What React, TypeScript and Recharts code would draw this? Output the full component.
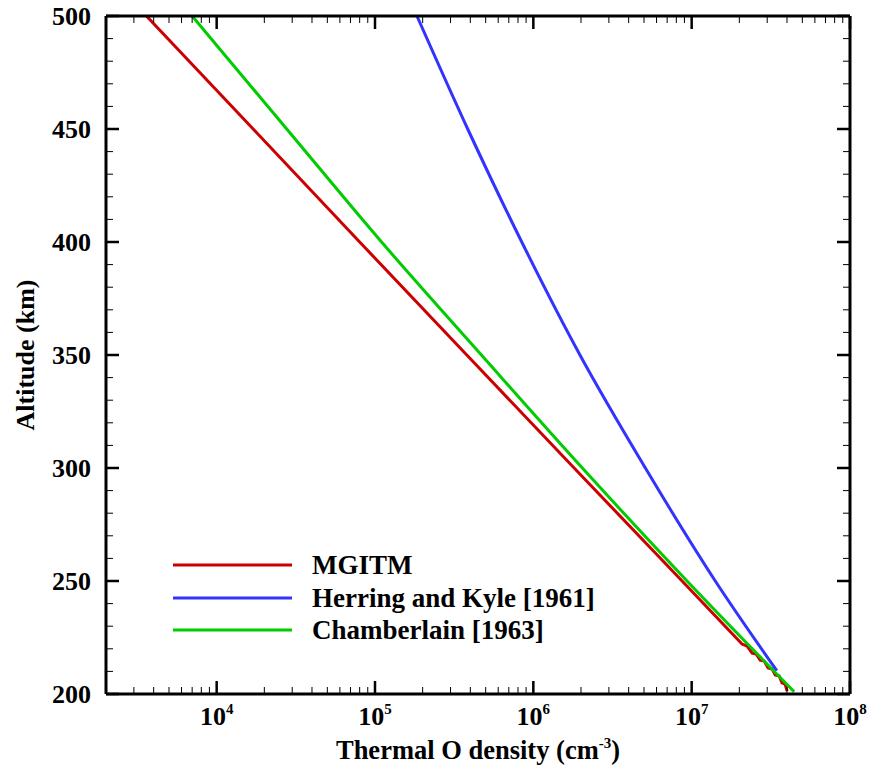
import React from 'react';
import { LineChart, Line, XAxis, YAxis, Legend, Label } from 'recharts';

const FONT = '"Liberation Serif", "Times New Roman", Times, serif';

// altitude (km) and thermal O density (cm^-3) for each profile
const mgitmAlt = [201.3, 204.4, 204.9, 208.0, 208.4, 211.1, 211.5, 214.6, 215.0, 217.7, 218.1, 221.2, 222.1, 250, 300, 350, 400, 450, 500];
const mgitmDensity = [4.01e7, 3.89e7, 3.72e7, 3.57e7, 3.37e7, 3.22e7, 3.04e7, 2.87e7, 2.71e7, 2.55e7, 2.41e7, 2.24e7, 2.08e7, 8.7e6, 1.81e6, 3.8e5, 8.0e4, 1.7e4, 3.6e3];

const herringAlt = [210.3, 250, 300, 350, 400, 450, 500];
const herringDensity = [3.45e7, 1.41e7, 5.1e6, 1.97e6, 8.45e5, 3.85e5, 1.84e5];

const chamberlainAlt = [201, 250, 300, 350, 400, 450, 500];
const chamberlainDensity = [4.44e7, 9.35e6, 2.04e6, 4.7e5, 1.1e5, 2.77e4, 7.0e3];

const seriesNames = ['MGITM', 'Herring and Kyle [1961]', 'Chamberlain [1963]'];
const seriesColors = ['#cc0000', '#3333ff', '#00cc00'];

const xMajorTicks = [1e4, 1e5, 1e6, 1e7, 1e8];
const xTickExponents = ['4', '5', '6', '7', '8'];
const yMajorTicks = [200, 250, 300, 350, 400, 450, 500];

const X_DOMAIN: [number, number] = [2000, 1e8];
const Y_DOMAIN: [number, number] = [200, 500];

// minor ticks: 2..9 in every decade, every 10 km on altitude
const xMinorTicks: number[] = [];
for (let e = 3; e <= 7; e++) {
  for (let m = 2; m <= 9; m++) {
    const v = m * Math.pow(10, e);
    if (v > X_DOMAIN[0] && v < X_DOMAIN[1]) xMinorTicks.push(v);
  }
}
const xAllTicks = [...xMinorTicks, ...xMajorTicks].sort((a, b) => a - b);
const yAllTicks: number[] = [];
for (let a = 200; a <= 500; a += 10) yAllTicks.push(a);

const toRows = (alt: number[], dens: number[]) => alt.map((a, i) => ({ n: dens[i], alt: a }));

const mgitm = toRows(mgitmAlt, mgitmDensity);
const herring = toRows(herringAlt, herringDensity);
const chamberlain = toRows(chamberlainAlt, chamberlainDensity);

const MAJOR = 13;
const MINOR = 7;

const isXMajor = (v: number) => xMajorTicks.indexOf(v);
const isYMajor = (v: number) => yMajorTicks.indexOf(v) >= 0;

const BottomTick = (props: any) => {
  const { x, y, payload } = props;
  const i = isXMajor(payload.value);
  const major = i >= 0;
  return (
    <g>
      <line x1={x} x2={x} y1={y} y2={y - (major ? MAJOR : MINOR)} stroke="#000" strokeWidth={major ? 2.5 : 1} />
      {major && (
        <text x={x} y={y + 31} textAnchor="middle" fontFamily={FONT} fontWeight="bold" fontSize={26} fill="#000">
          10<tspan dy={-11} fontSize={15}>{xTickExponents[i]}</tspan>
        </text>
      )}
    </g>
  );
};

const TopTick = (props: any) => {
  const { x, y, payload } = props;
  const major = isXMajor(payload.value) >= 0;
  return <line x1={x} x2={x} y1={y} y2={y + (major ? MAJOR : MINOR)} stroke="#000" strokeWidth={major ? 2.5 : 1} />;
};

const LeftTick = (props: any) => {
  const { x, y, payload } = props;
  const major = isYMajor(payload.value);
  return (
    <g>
      <line x1={x} x2={x + (major ? MAJOR : MINOR)} y1={y} y2={y} stroke="#000" strokeWidth={major ? 2.5 : 1} />
      {major && (
        <text x={x - 15} y={y} dy="0.35em" textAnchor="end" fontFamily={FONT} fontWeight="bold" fontSize={26} fill="#000">
          {payload.value}
        </text>
      )}
    </g>
  );
};

const RightTick = (props: any) => {
  const { x, y, payload } = props;
  const major = isYMajor(payload.value);
  return <line x1={x} x2={x - (major ? MAJOR : MINOR)} y1={y} y2={y} stroke="#000" strokeWidth={major ? 2.5 : 1} />;
};

const XTitle = (props: any) => {
  const vb = props.viewBox || { x: 106, y: 694, width: 744 };
  return (
    <text x={vb.x + vb.width / 2} y={vb.y + 65} textAnchor="middle" fontFamily={FONT} fontWeight="bold" fontSize={26.5} fill="#000">
      Thermal O density (cm<tspan dy={-11} fontSize={15}>-3</tspan><tspan dy={11}>)</tspan>
    </text>
  );
};

const YTitle = (props: any) => {
  const vb = props.viewBox || { x: 0, y: 16, height: 678 };
  const cx = 25;
  const cy = vb.y + vb.height / 2;
  return (
    <text x={cx} y={cy} transform={`rotate(-90 ${cx} ${cy})`} dy="0.35em" textAnchor="middle" fontFamily={FONT} fontWeight="bold" fontSize={26} fill="#000">
      Altitude (km)
    </text>
  );
};

const LegendBox = () => (
  <div style={{ fontFamily: FONT, fontWeight: 'bold', fontSize: 27, color: '#000' }}>
    {seriesNames.map((name, i) => (
      <div key={name} style={{ display: 'flex', alignItems: 'center', height: 32.5, whiteSpace: 'nowrap' }}>
        <svg width={139} height={6} style={{ display: 'block' }}>
          <line x1={0} x2={119} y1={3} y2={3} stroke={seriesColors[i]} strokeWidth={3} />
        </svg>
        <span style={{ lineHeight: '32.5px' }}>{name}</span>
      </div>
    ))}
  </div>
);

const axisLine = { stroke: '#000', strokeWidth: 3 };

export default function App() {
  return (
    <div style={{ position: 'absolute', left: 0, top: 0, background: '#fff' }}>
      <LineChart width={871} height={770} margin={{ top: 15, right: 20, left: 0, bottom: 0 }}>
        <XAxis
          xAxisId="b"
          dataKey="n"
          type="number"
          scale="log"
          domain={X_DOMAIN}
          allowDataOverflow
          ticks={xAllTicks}
          interval={0}
          tick={<BottomTick />}
          tickSize={0}
          tickMargin={0}
          tickLine={false}
          axisLine={axisLine}
          height={76}
        >
          <Label content={<XTitle />} />
        </XAxis>
        <XAxis
          xAxisId="t"
          orientation="top"
          dataKey="n"
          type="number"
          scale="log"
          domain={X_DOMAIN}
          allowDataOverflow
          ticks={xAllTicks}
          interval={0}
          tick={<TopTick />}
          tickSize={0}
          tickMargin={0}
          tickLine={false}
          axisLine={axisLine}
          height={1}
        />
        <YAxis
          yAxisId="l"
          dataKey="alt"
          type="number"
          domain={Y_DOMAIN}
          allowDataOverflow
          ticks={yAllTicks}
          interval={0}
          tick={<LeftTick />}
          tickSize={0}
          tickMargin={0}
          tickLine={false}
          axisLine={axisLine}
          width={106}
        >
          <Label content={<YTitle />} />
        </YAxis>
        <YAxis
          yAxisId="r"
          orientation="right"
          dataKey="alt"
          type="number"
          domain={Y_DOMAIN}
          allowDataOverflow
          ticks={yAllTicks}
          interval={0}
          tick={<RightTick />}
          tickSize={0}
          tickMargin={0}
          tickLine={false}
          axisLine={axisLine}
          width={1}
        />
        <Legend
          layout="vertical"
          align="center"
          verticalAlign="middle"
          content={<LegendBox />}
          wrapperStyle={{ left: 173, top: 549, width: 450 }}
        />
        <Line xAxisId="b" yAxisId="l" data={mgitm} dataKey="alt" name={seriesNames[0]} type="linear" stroke={seriesColors[0]} strokeWidth={3} dot={false} isAnimationActive={false} />
        <Line xAxisId="b" yAxisId="l" data={herring} dataKey="alt" name={seriesNames[1]} type="monotone" stroke={seriesColors[1]} strokeWidth={3} dot={false} isAnimationActive={false} />
        {/* plotted against the top/right axes so those frame sides get drawn */}
        <Line xAxisId="t" yAxisId="r" data={chamberlain} dataKey="alt" name={seriesNames[2]} type="monotone" stroke={seriesColors[2]} strokeWidth={3} dot={false} isAnimationActive={false} />
      </LineChart>
    </div>
  );
}
